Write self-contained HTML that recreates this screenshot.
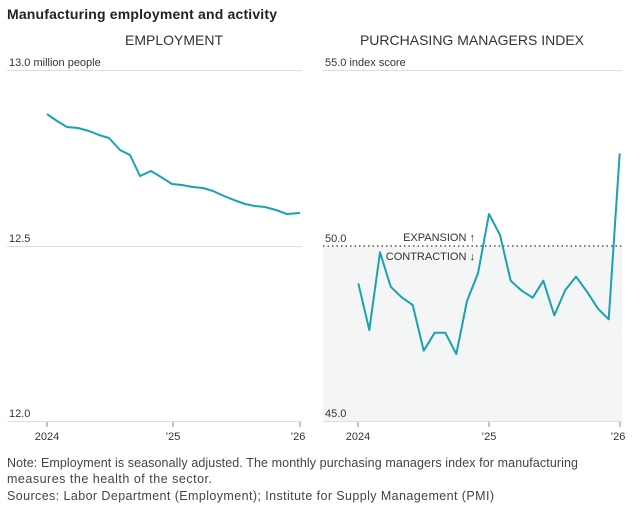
<!DOCTYPE html><html><head><style>body{margin:0;background:#fff;width:634px;height:515px;overflow:hidden;font-family:"Liberation Sans",sans-serif}</style></head><body>
<svg width="634" height="515" xmlns="http://www.w3.org/2000/svg" font-family="Liberation Sans, sans-serif">
<text x="7" y="19" font-size="14" font-weight="bold" fill="#222" textLength="270">Manufacturing employment and activity</text>
<text x="174" y="45" font-size="14" fill="#333" text-anchor="middle">EMPLOYMENT</text>
<text x="472" y="45" font-size="14" fill="#333" text-anchor="middle">PURCHASING MANAGERS INDEX</text>
<rect x="323" y="246" width="299" height="175" fill="#f4f5f5"/>
<g stroke="#ddd" stroke-width="1">
<line x1="7" y1="70.5" x2="302" y2="70.5"/><line x1="7" y1="246.5" x2="302" y2="246.5"/><line x1="7" y1="421.5" x2="302" y2="421.5"/>
<line x1="323" y1="70.5" x2="622" y2="70.5"/><line x1="323" y1="421.5" x2="622" y2="421.5"/>
</g>
<line x1="323" y1="246" x2="622" y2="246" stroke="#555" stroke-width="1.5" stroke-dasharray="1.5,3"/>
<g stroke="#888" stroke-width="1"><line x1="47" y1="422" x2="47" y2="427"/><line x1="173" y1="422" x2="173" y2="427"/><line x1="300" y1="422" x2="300" y2="427"/>
<line x1="358" y1="422" x2="358" y2="427"/><line x1="489" y1="422" x2="489" y2="427"/><line x1="620" y1="422" x2="620" y2="427"/></g>
<g font-size="11" fill="#333">
<text x="9" y="66">13.0 million people</text><text x="9" y="242">12.5</text><text x="9" y="417">12.0</text>
<text x="325" y="66">55.0 index score</text><text x="325" y="242">50.0</text><text x="325" y="417">45.0</text>
<text x="47" y="440" text-anchor="middle">2024</text><text x="173" y="440" text-anchor="middle">’25</text><text x="298" y="440" text-anchor="middle">’26</text>
<text x="358" y="440" text-anchor="middle">2024</text><text x="489" y="440" text-anchor="middle">’25</text><text x="618" y="440" text-anchor="middle">’26</text>
<text x="475" y="241" text-anchor="end">EXPANSION ↑</text><text x="475" y="260" text-anchor="end">CONTRACTION ↓</text>
</g>
<polyline fill="none" stroke="#1ba2b0" stroke-width="2" stroke-linejoin="round" points="47,114 57,121 67,127 78,128 89,131 99,135 109,138 120,150 130,155 140,176 151,171 161,177 172,184 182,185 193,187 203,188 213,191 224,196 234,200 245,204 255,206 265,207 276,210 287,214 300,213"/>
<polyline fill="none" stroke="#1ba2b0" stroke-width="2" stroke-linejoin="round" points="358.3,283.3 369.3,330 380,252.3 390.7,286.7 401.7,297.3 412.7,305 423.7,350.7 434.7,332.7 445.3,332.7 456.3,354 467,301 478,273.3 489,214 500,235 510.7,280.7 521.7,290.7 532.7,297.7 543.3,280.7 554.3,315.3 565.3,290 576,276.7 587,291.7 598,308.7 608.7,319.3 619.7,153.3"/>
<g font-size="12.5" fill="#444">
<text x="7" y="467" textLength="571">Note: Employment is seasonally adjusted. The monthly purchasing managers index for manufacturing</text>
<text x="7" y="483" textLength="205">measures the health of the sector.</text>
<text x="7" y="500" textLength="487">Sources: Labor Department (Employment); Institute for Supply Management (PMI)</text>
</g>
</svg></body></html>
